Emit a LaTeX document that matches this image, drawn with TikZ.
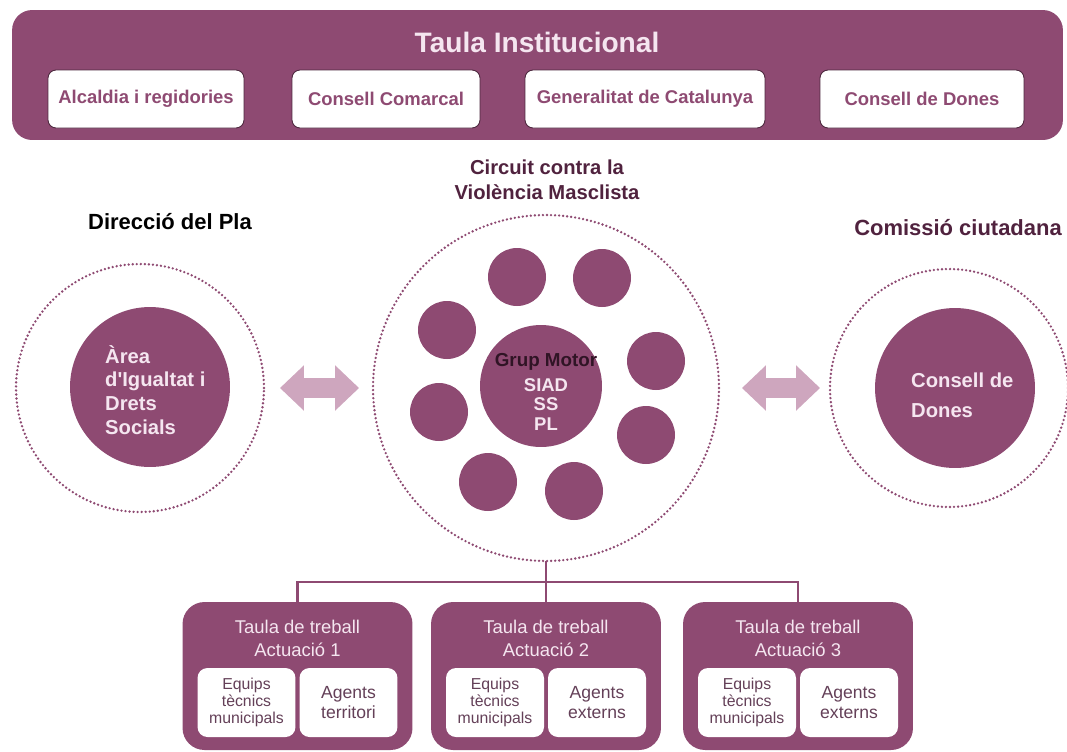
\documentclass[tikz,border=0pt]{standalone}
\usepackage{fontspec}
\setmainfont{Liberation Sans}
\usetikzlibrary{arrows.meta,calc,positioning}
\definecolor{mauve}{RGB}{142,74,114}
\definecolor{mauvelt}{RGB}{206,166,190}
\definecolor{pinkw}{RGB}{245,230,240}
\definecolor{plum}{RGB}{80,34,62}
\definecolor{greyplum}{RGB}{100,64,88}
\tikzset{
	banner/.style={fill=mauve, rounded corners=0.4cm, minimum width=21.02cm, minimum height=2.6cm, inner sep=0pt},
	inst/.style={fill=white, draw=mauve!55!black, line width=0.5pt, rounded corners=0.16cm,
		minimum height=1.16cm, text=mauve, font=\fontsize{10.5}{13}\selectfont\bfseries},
	head/.style={font=\fontsize{12.5}{15}\selectfont\bfseries, align=center},
	ring/.style={circle, draw=mauve, line width=1.5pt, dash pattern=on 0pt off 2.3pt, line cap=round,
		minimum size=#1, inner sep=0pt, outer sep=0pt},
	disc/.style={circle, fill=mauve, minimum size=#1, inner sep=0pt, outer sep=0pt},
	intext/.style={text=pinkw, font=\fontsize{11.5}{13.6}\selectfont\bfseries, align=left},
	bigarrow/.style={draw=mauvelt, line width=0.4cm,
		{Triangle[length=0.48cm, width=0.88cm]}-{Triangle[length=0.48cm, width=0.88cm]}},
	link/.style={draw=mauve, line width=1.6pt},
	taula/.style={fill=mauve, rounded corners=0.44cm, minimum width=4.6cm, minimum height=2.96cm, inner sep=0pt},
	taulatext/.style={text=pinkw, font=\fontsize{10.5}{13}\selectfont, align=center},
	agent/.style={fill=white, rounded corners=0.2cm, minimum width=1.96cm, minimum height=1.38cm,
		inner sep=0pt, text=greyplum, align=center},
}
\begin{document}
\begin{tikzpicture}[x=0.02cm, y=-0.02cm]
	\useasboundingbox (0,0) rectangle (1067,751);
	% taula institucional
	\node[banner] (inst) at (537.5,75) {};
	\node[text=pinkw, font=\fontsize{16}{18}\selectfont\bfseries] (instT) at (537,42) {Taula Institucional};
	\node[inst, minimum width=3.92cm] (alc) at (146,99) {Alcaldia i regidories};
	\node[inst, minimum width=3.76cm] (cc) at (386,99) {Consell Comarcal};
	\node[inst, minimum width=4.8cm] (gen) at (645,99) {Generalitat de Catalunya};
	\node[inst, minimum width=4.08cm] (cd) at (922,99) {Consell de Dones};

	\node[head, text=plum, font=\fontsize{11.5}{14}\selectfont\bfseries] (circT) at (547,180) {Circuit contra la\\Violència Masclista};
	\node[head, text=black] (dirT) at (170,222) {Direcció del Pla};
	\node[head, text=plum] (comT) at (958,228) {Comissió ciutadana};

	% three circles
	\node[ring=4.96cm] (dir) at (140,388) {};
	\node[ring=6.92cm] (circ) at (546,388) {};
	\node[ring=4.76cm] (com) at (949,388) {};

	\node[disc=3.2cm] (area) at (150,387) {};
	\node[intext, anchor=west] (areaT) at (99,390) {Àrea\\d\textquotesingle Igualtat i\\Drets\\Socials};
	\node[disc=3.2cm] (cons) at (955,388) {};
	\node[intext, anchor=west, font=\fontsize{11.5}{17}\selectfont\bfseries] (consT) at (905,395) {Consell de\\Dones};

	\node[disc=2.44cm] (grup) at (541,386) {};
	\node[text=plum!60!black, font=\fontsize{10.7}{12}\selectfont\bfseries] (grupT) at (546,362) {Grup Motor};
	\node[text=pinkw, font=\fontsize{10.5}{11.3}\selectfont\bfseries, align=center, anchor=north] (grupS) at (546,372) {SIAD\\SS\\PL};
	\foreach \x/\y [count=\i] in {517/277, 602/278, 447/330, 656/361, 439/412, 646/435, 488/482, 574/491}
		\node[disc=1.16cm] (s\i) at (\x,\y) {};

	\draw[bigarrow, shorten <=0.32cm, shorten >=0.28cm] (dir) -- (circ);
	\draw[bigarrow, shorten <=0.46cm, shorten >=0.2cm] (circ) -- (com);

	% taules de treball
	\coordinate (bus) at (546,582);
	\foreach \n/\x/\a in {1/297.5/territori, 2/546/externs, 3/798/externs} {
		\node[taula] (t\n) at (\x,676) {};
		\node[taulatext] (t\n T) at (\x,638) {Taula de treball\\Actuació \n};
		\node[agent, font=\fontsize{9}{9.6}\selectfont] (t\n e) at ($(t\n)+(-51,26.5)$) {Equips\\tècnics\\municipals};
		\node[agent, font=\fontsize{10}{11}\selectfont] (t\n a) at ($(t\n)+(51,26.5)$) {Agents\\\a};
	}
	\draw[link] (t1.north) |- (bus) -| (t3.north);
	\draw[link] (circ.south) -- (t2.north);
\end{tikzpicture}
\end{document}
